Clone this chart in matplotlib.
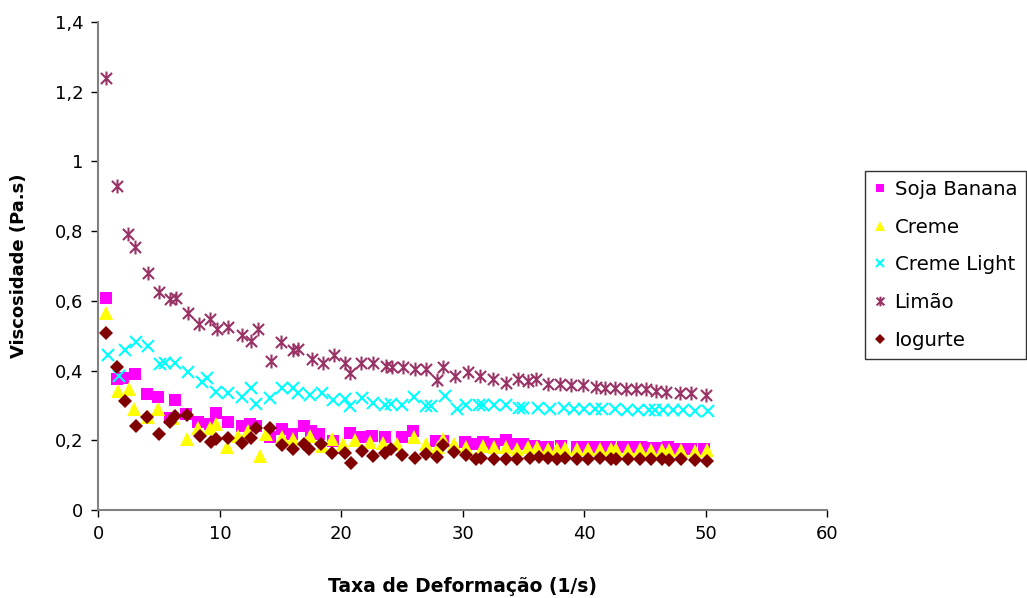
import matplotlib
matplotlib.use("Agg")
import matplotlib.pyplot as plt
from matplotlib.path import Path

plt.rcParams['font.family'] = ['DejaVu Sans']

# ---------------- data ----------------
soja_x = [0.6, 1.5, 2.0, 3.0, 4.0, 4.9, 5.9, 6.3, 7.2, 8.2,
          9.2, 9.7, 10.7, 11.8, 12.5, 13.0, 14.1, 15.1, 15.9, 16.9,
          17.5, 18.2, 19.3, 20.7, 21.7, 22.5, 23.6, 25.0, 25.9, 27.8,
          28.4, 30.2, 31.0, 31.7, 32.6, 33.6, 34.0, 35.0, 35.9, 36.6,
          37.0, 38.1, 39.4, 40.3, 41.3, 42.1, 43.2, 44.0, 44.7, 45.5,
          46.2, 46.9, 47.9, 48.8, 49.9]
soja_y = [0.607, 0.375, 0.380, 0.390, 0.333, 0.323, 0.263, 0.316, 0.275, 0.251,
          0.246, 0.278, 0.251, 0.242, 0.246, 0.242, 0.210, 0.232, 0.218, 0.240,
          0.227, 0.218, 0.199, 0.222, 0.208, 0.213, 0.208, 0.208, 0.227, 0.199,
          0.199, 0.194, 0.189, 0.194, 0.189, 0.200, 0.189, 0.189, 0.184, 0.180,
          0.182, 0.184, 0.180, 0.180, 0.180, 0.180, 0.180, 0.180, 0.180, 0.179,
          0.178, 0.180, 0.174, 0.174, 0.175]

creme_x = [0.6, 1.6, 2.5, 2.95, 4.1, 4.9, 6.1, 7.3, 8.2, 9.2,
           9.65, 10.55, 11.5, 12.3, 13.3, 13.8, 15.1, 16.0, 17.4, 18.4,
           19.2, 20.1, 21.1, 22.4, 23.4, 24.6, 26.0, 27.0, 28.0, 28.4,
           29.3, 30.3, 31.7, 32.6, 33.6, 34.5, 35.4, 36.1, 37.0, 37.8,
           38.4, 39.4, 40.3, 41.3, 42.2, 42.6, 43.6, 44.6, 45.5, 46.4,
           47.0, 48.0, 49.1, 50.1]
creme_y = [0.566, 0.342, 0.347, 0.291, 0.266, 0.291, 0.263, 0.205, 0.234, 0.234,
           0.246, 0.180, 0.211, 0.227, 0.156, 0.218, 0.208, 0.204, 0.213, 0.184,
           0.204, 0.189, 0.201, 0.196, 0.192, 0.190, 0.208, 0.189, 0.180, 0.204,
           0.189, 0.180, 0.184, 0.180, 0.180, 0.175, 0.180, 0.180, 0.176, 0.175,
           0.178, 0.175, 0.174, 0.175, 0.174, 0.175, 0.173, 0.174, 0.172, 0.173,
           0.171, 0.172, 0.170, 0.171]

light_x = [0.8, 1.7, 2.2, 3.1, 4.1, 5.1, 5.5, 6.3, 7.4, 8.5,
           8.9, 9.7, 10.7, 11.8, 12.6, 13.0, 14.1, 15.1, 16.0, 16.4,
           17.4, 18.4, 19.3, 20.3, 20.7, 21.7, 22.6, 23.6, 24.1, 25.0,
           26.0, 27.0, 27.4, 28.5, 29.5, 30.3, 31.3, 31.7, 32.6, 33.6,
           34.6, 35.0, 36.2, 37.2, 38.3, 39.2, 40.0, 40.9, 41.5, 42.5,
           43.5, 44.4, 45.3, 45.8, 46.5, 47.3, 48.1, 49.1, 50.2]
light_y = [0.444, 0.385, 0.460, 0.483, 0.471, 0.419, 0.423, 0.423, 0.397, 0.368,
           0.380, 0.339, 0.335, 0.323, 0.349, 0.304, 0.320, 0.349, 0.349, 0.335,
           0.330, 0.337, 0.316, 0.318, 0.297, 0.320, 0.308, 0.301, 0.304, 0.301,
           0.323, 0.297, 0.297, 0.327, 0.291, 0.301, 0.301, 0.301, 0.301, 0.301,
           0.294, 0.294, 0.294, 0.291, 0.294, 0.291, 0.291, 0.290, 0.291, 0.289,
           0.288, 0.288, 0.287, 0.288, 0.287, 0.286, 0.286, 0.285, 0.285]

limao_x = [0.6, 1.5, 2.45, 3.0, 4.05, 5.0, 5.9, 6.4, 7.35, 8.3,
           9.2, 9.8, 10.7, 11.8, 12.55, 13.1, 14.2, 15.0, 16.0, 16.45,
           17.55, 18.45, 19.4, 20.3, 20.75, 21.65, 22.6, 23.7, 24.2, 25.1,
           26.05, 27.0, 27.85, 28.4, 29.35, 30.45, 31.4, 32.5, 33.6, 34.55,
           35.4, 36.05, 37.0, 38.0, 38.95, 39.9, 41.0, 41.7, 42.5, 43.45,
           44.3, 45.1, 45.95, 46.75, 47.85, 48.8, 50.05]
limao_y = [1.24, 0.93, 0.793, 0.755, 0.68, 0.626, 0.604, 0.609, 0.566, 0.534,
           0.547, 0.518, 0.525, 0.501, 0.485, 0.518, 0.427, 0.482, 0.459, 0.461,
           0.432, 0.421, 0.444, 0.421, 0.392, 0.423, 0.423, 0.413, 0.409, 0.409,
           0.405, 0.405, 0.373, 0.411, 0.383, 0.395, 0.383, 0.375, 0.364, 0.375,
           0.370, 0.375, 0.361, 0.361, 0.358, 0.358, 0.354, 0.351, 0.349, 0.346,
           0.346, 0.346, 0.341, 0.339, 0.335, 0.335, 0.329]

iog_x = [0.6, 1.55, 2.2, 3.1, 4.0, 5.0, 5.9, 6.3, 7.3, 8.35,
         9.3, 9.7, 10.7, 11.8, 12.6, 13.0, 14.1, 15.1, 16.0, 16.9,
         17.3, 18.3, 19.2, 20.3, 20.8, 21.7, 22.6, 23.6, 24.1, 25.0,
         26.05, 27.0, 27.9, 28.4, 29.3, 30.3, 31.1, 31.5, 32.6, 33.6,
         34.5, 35.5, 36.3, 37.0, 37.8, 38.4, 39.4, 40.3, 41.3, 42.2,
         42.6, 43.6, 44.6, 45.5, 46.4, 47.0, 48.0, 49.1, 50.1]
iog_y = [0.509, 0.409, 0.313, 0.240, 0.266, 0.218, 0.251, 0.270, 0.272, 0.213,
         0.196, 0.204, 0.206, 0.192, 0.206, 0.234, 0.234, 0.186, 0.175, 0.189,
         0.175, 0.189, 0.163, 0.163, 0.135, 0.170, 0.154, 0.163, 0.175, 0.158,
         0.148, 0.161, 0.151, 0.186, 0.167, 0.158, 0.146, 0.148, 0.146, 0.146,
         0.146, 0.148, 0.151, 0.150, 0.146, 0.148, 0.146, 0.146, 0.148, 0.145,
         0.146, 0.146, 0.145, 0.146, 0.145, 0.144, 0.145, 0.143, 0.141]

series_names = ["Soja Banana", "Creme", "Creme Light", "Limão", "Iogurte"]
x_ticks = [0, 10, 20, 30, 40, 50, 60]
y_ticks = [0, 0.2, 0.4, 0.6, 0.8, 1.0, 1.2, 1.4]
y_ticklabels = ["0", "0,2", "0,4", "0,6", "0,8", "1", "1,2", "1,4"]
x_label = "Taxa de Deformação (1/s)"
y_label = "Viscosidade (Pa.s)"

# ---------------- figure ----------------
fig = plt.figure(figsize=(10.27, 5.98), dpi=100)
ax = fig.add_axes([0.0959, 0.1472, 0.7094, 0.8160])

star = Path([(-1, -1), (1, 1), (-1, 1), (1, -1), (0, -1.25), (0, 1.25)],
            [Path.MOVETO, Path.LINETO, Path.MOVETO, Path.LINETO, Path.MOVETO, Path.LINETO])

styles = [
    dict(marker='s', color='#FF00FF', ms=8, mec='#FF00FF', mew=0),
    dict(marker='^', color='#FFFF00', ms=9.5, mec='#FFFF00', mew=0),
    dict(marker='x', color='#00FFFF', ms=9, mew=1.5),
    dict(marker=star, color='#993366', ms=10, mew=1.5),
    dict(marker='D', color='#800000', ms=7, mec='#800000', mew=0),
]
data = [(soja_x, soja_y), (creme_x, creme_y), (light_x, light_y),
        (limao_x, limao_y), (iog_x, iog_y)]

handles = []
for (xs, ys), name, st in zip(data, series_names, styles):
    h, = ax.plot(xs, ys, linestyle='none', label=name, clip_on=False, **st)
    handles.append(h)

ax.set_xlim(0, 60)
ax.set_ylim(0, 1.4)
ax.set_xticks(x_ticks)
ax.set_yticks(y_ticks)
ax.set_yticklabels(y_ticklabels)
ax.tick_params(axis='both', direction='out', length=5, width=1, color='black',
               labelsize=13, pad=6)
for s in ['top', 'right']:
    ax.spines[s].set_visible(False)
for s in ['left', 'bottom']:
    ax.spines[s].set_color('#808080')
    ax.spines[s].set_linewidth(1.5)

ax.set_xlabel(x_label, fontsize=13.5, fontweight='bold', labelpad=24)
ax.set_ylabel(y_label, fontsize=13, fontweight='bold', labelpad=19)

leg = fig.legend(handles=handles, loc='upper left',
                 bbox_to_anchor=(865 / 1027, 1 - 171 / 598),
                 bbox_transform=fig.transFigure,
                 fontsize=14.2, frameon=True, fancybox=False,
                 edgecolor='black', markerscale=0.7,
                 handlelength=0.6, handletextpad=0.45, borderpad=0.45,
                 labelspacing=0.95, borderaxespad=0)
leg.get_frame().set_linewidth(1.0)

fig.savefig("out.png", dpi=100)
